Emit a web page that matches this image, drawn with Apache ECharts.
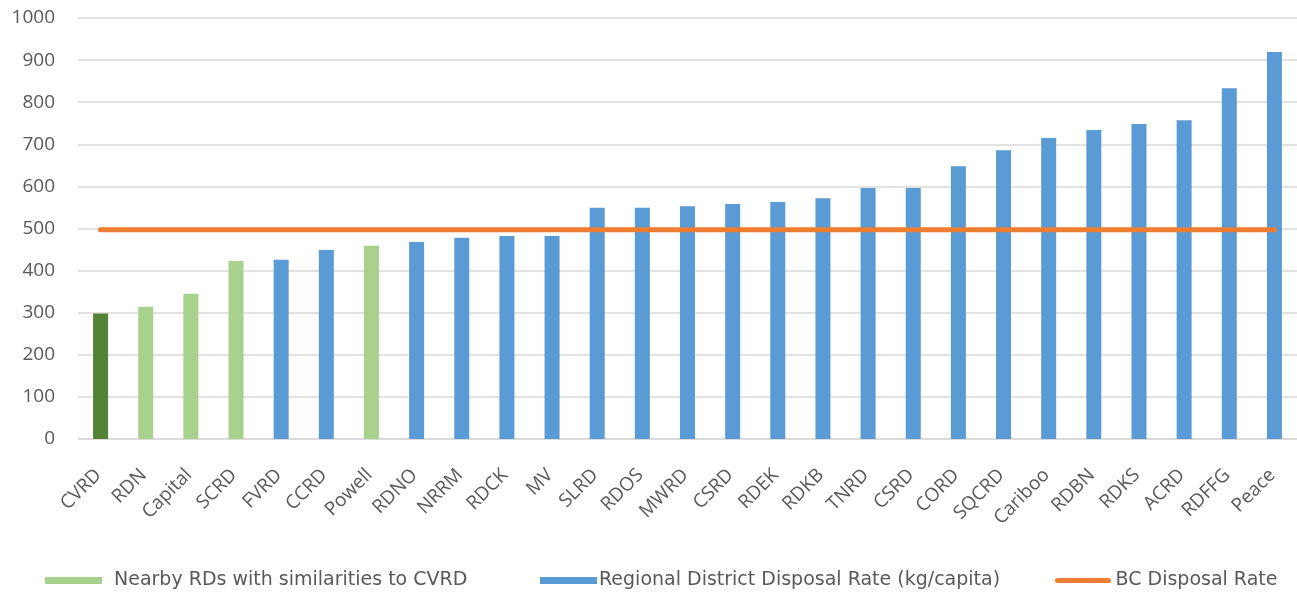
<!DOCTYPE html>
<html>
<head>
<meta charset="utf-8">
<script src="https://cdn.jsdelivr.net/npm/echarts@6/dist/echarts.min.js"></script>
<style>
  html, body { margin: 0; padding: 0; background: #fff; }
  #chart { width: 1297px; height: 592px; }
</style>
</head>
<body>
<div id="chart"></div>
<script>
// regional districts, sorted by disposal rate
const categories = ["CVRD", "RDN", "Capital", "SCRD", "FVRD", "CCRD", "Powell", "RDNO", "NRRM", "RDCK", "MV",
  "SLRD", "RDOS", "MWRD", "CSRD", "RDEK", "RDKB", "TNRD", "CSRD", "CORD", "SQCRD", "Cariboo", "RDBN", "RDKS",
  "ACRD", "RDFFG", "Peace"];
const disposalRates = [298, 314, 345, 423, 426, 449, 459, 468, 478, 482, 482,
  549, 549, 553, 558, 563, 572, 596, 596, 648, 686, 715, 734, 748,
  757, 833, 919];
// which bar colour each district gets
const groups = ["cvrd", "nearby", "nearby", "nearby", "regional", "regional", "nearby", "regional", "regional", "regional", "regional",
  "regional", "regional", "regional", "regional", "regional", "regional", "regional", "regional", "regional", "regional", "regional", "regional", "regional",
  "regional", "regional", "regional"];
const bcDisposalRate = 497;
const yTicks = [0, 1000, 100]; // min, max, interval
const legendNames = ["Nearby RDs with similarities to CVRD", "Regional District Disposal Rate (kg/capita)", "BC Disposal Rate"];

const colors = { cvrd: "#548235", nearby: "#a9d18e", regional: "#5b9bd5", bc: "#ed7d31" };
const labelColor = "#595959";
const fontFamily = "'Open Sans', 'Liberation Sans', sans-serif";

const nearbyData = disposalRates.map((v, i) => {
  if (groups[i] === "cvrd") return { value: v, itemStyle: { color: colors.cvrd } };
  return groups[i] === "nearby" ? v : "-";
});
const regionalData = disposalRates.map((v, i) => (groups[i] === "regional" ? v : "-"));

function legendAt(left, name, icon, h, gap) {
  return {
    top: 571,
    left: left,
    padding: 0,
    itemWidth: 57,
    itemHeight: h,
    textStyle: { color: labelColor, fontSize: 19, fontFamily: "'DejaVu Sans', sans-serif", padding: [0, 0, 0, gap] },
    data: [{ name: name, icon: icon }]
  };
}

const chart = echarts.init(document.getElementById("chart"));
chart.setOption({
  animation: false,
  textStyle: { fontFamily: fontFamily },
  grid: { left: 78, right: -2, top: 18, bottom: 153 },
  legend: [
    legendAt(45, legendNames[0], "rect", 7, 7),
    legendAt(540, legendNames[1], "rect", 7, -3),
    legendAt(1055, legendNames[2], "path://M2.5,0 L53.5,0 A2.5,2.5 0 0 1 53.5,5 L2.5,5 A2.5,2.5 0 0 1 2.5,0 Z", 5, -1)
  ],
  xAxis: {
    type: "category",
    data: categories,
    axisTick: { show: false },
    axisLine: { lineStyle: { color: "#d9d9d9", width: 1.5 } },
    axisLabel: {
      rotate: 45,
      interval: 0,
      color: labelColor,
      fontSize: 19,
      margin: 31,
      padding: [0, 3, 0, 0]
    }
  },
  yAxis: {
    type: "value",
    min: yTicks[0],
    max: yTicks[1],
    interval: yTicks[2],
    axisLine: { show: false },
    axisTick: { show: false },
    axisLabel: { color: labelColor, fontSize: 19, margin: 23, formatter: (v) => String(v) },
    splitLine: { lineStyle: { color: "#d9d9d9", width: 1.5 } }
  },
  series: [
    {
      name: legendNames[0],
      type: "bar",
      stack: "rd",
      barWidth: 15,
      itemStyle: { color: colors.nearby },
      data: nearbyData
    },
    {
      name: legendNames[1],
      type: "bar",
      stack: "rd",
      barWidth: 15,
      itemStyle: { color: colors.regional },
      data: regionalData
    },
    {
      name: legendNames[2],
      type: "line",
      symbol: "none",
      itemStyle: { color: colors.bc },
      lineStyle: { color: colors.bc, width: 5, cap: "round" },
      data: categories.map(() => bcDisposalRate)
    }
  ]
});
</script>
</body>
</html>
